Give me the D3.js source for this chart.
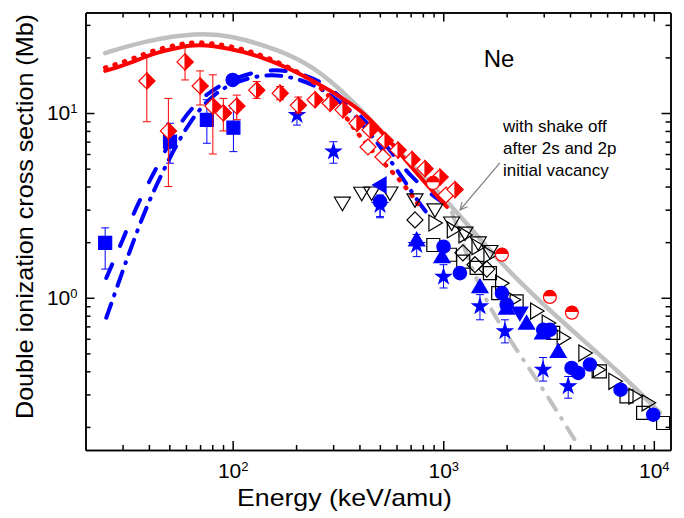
<!DOCTYPE html>
<html>
<head>
<meta charset="utf-8">
<script src="https://cdn.jsdelivr.net/npm/d3@7"></script>
<style>
  body { margin: 0; background: #fff; }
  svg text { font-family: "Liberation Sans", Arial, sans-serif; fill: #000; }
  .axis path, .axis line { stroke: #000; stroke-width: 1.5; }
  .axis text { font-size: 21px; }
</style>
</head>
<body>
<svg id="chart" width="684" height="518"></svg>
<script>

// ----- Data (energy keV/amu, cross section Mb) ------------------------------
var X_DOMAIN = [20, 12000];
var Y_DOMAIN = [0.15, 35];
var X_MAJOR = [100, 1000, 10000];
var Y_MAJOR = [1, 10];
var X_MINOR = [30, 40, 50, 60, 70, 80, 90, 200, 300, 400, 500, 600, 700, 800, 900,
  2000, 3000, 4000, 5000, 6000, 7000, 8000, 9000];
var Y_MINOR = [0.2, 0.3, 0.4, 0.5, 0.6, 0.7, 0.8, 0.9, 2, 3, 4, 5, 6, 7, 8, 9, 20, 30];

// theory curves
var GRAY_SHAKE = [[24.8, 21.1], [39.3, 24.8], [67.8, 27.1], [97, 26.4], [168, 21.9],
  [241, 17.9], [349, 12.5], [501, 8.1], [718, 5.1], [1041, 3.39], [1920, 1.47],
  [3580, 0.76], [6900, 0.394], [10680, 0.239]];
var GRAY_DASHDOT = [[1100, 2.9], [1340, 1.51], [1666, 0.861], [2363, 0.475],
  [3140, 0.292], [4357, 0.16]];
var RED_SOLID = [[24.8, 16.9], [32.6, 18.6], [41.9, 21.1], [56.3, 22.7], [67.8, 23.6],
  [97.2, 22.4], [139, 20.1], [202, 16.7], [290, 13.3], [416, 10.2], [501, 8.1],
  [620, 6.1], [775, 4.5], [1041, 3.1]];
var RED_DOTTED = [[24.8, 17.6], [32.6, 19.4], [41.9, 21.9], [56.3, 23.6], [67.8, 24.4],
  [97.2, 23.2], [139, 20.6], [202, 16.9], [260, 14.0], [324, 10.6], [402, 7.4],
  [501, 5.6], [644, 4.2], [775, 3.1]];
var BLUE_DASHED = [[25.1, 1.28], [29.8, 2.01], [35.6, 3.3], [44.3, 5.24], [57.5, 9.5],
  [76.4, 13.0], [100, 15.3], [135, 17.1], [187, 17.1], [260, 15.1], [349, 11.5],
  [501, 7.5], [700, 4.4], [1041, 3.15]];
var BLUE_DASHDOT = [[25.1, 0.78], [28.6, 1.19], [32.6, 1.82], [39.7, 3.3], [50, 5.7],
  [63, 9.2], [80, 12.5], [100, 14.6], [140, 16.3], [190, 15.8], [260, 13.8],
  [349, 10.8], [450, 7.8], [600, 5.0], [760, 3.3], [865, 2.74]];

// experiments: [E, sigma, errLow, errHigh]
var RED_HALF_DIAMONDS = [[39.1, 14.9, 8.97, 20.6], [49.5, 8.0, 4.0, 12.0],
  [59.4, 18.9, 15.1, 22.8], [70.0, 14.0, 11.05, 16.9], [80.5, 10.9, 6.0, 16.1],
  [90.3, 10.0, 8.0, 12.0], [104.6, 10.9, 9.2, 12.5], [130, 13.3, 12.0, 14.8],
  [168, 12.8, 11.8, 13.9], [205, 11.0, 10.0, 12.2], [246, 11.8], [290, 11.3],
  [334, 10.4], [389, 8.8], [449, 8.1], [529, 7.1], [610, 6.3], [710, 5.6],
  [819, 5.0], [965, 4.5], [1137, 3.85]];
var RED_OPEN_DIAMONDS = [[439, 6.55], [517, 5.78], [1030, 3.6]];
var RED_HALF_CIRCLES = [[894, 4.18], [1899, 1.71], [3209, 1.01], [4083, 0.83]];

var BLUE_SQUARES = [[24.8, 1.98, 1.43, 2.39], [50.4, 7.0, 5.35, 8.8],
  [75.4, 9.17, 6.86, 11.8], [100.8, 8.33, 6.18, 10.6]];
var BLUE_CIRCLES = [[100, 15.1], [501, 3.31, 2.75, 3.31], [1003, 1.89], [1200, 1.36],
  [1899, 1.06], [2000, 0.917], [2983, 0.671], [3209, 0.671], [4067, 0.417],
  [4372, 0.392], [4970, 0.435], [6950, 0.318], [9930, 0.233]];
var BLUE_TRI_UP = [[748, 2.06], [986, 1.67], [1494, 1.15], [2000, 0.88], [2488, 0.73],
  [2964, 0.645], [3515, 0.513]];
var BLUE_TRI_LEFT = [[501, 4.08]];
var BLUE_TRI_DOWN = [[2312, 0.826]];
var BLUE_STARS = [[202, 9.75, 8.6, 10.8], [301, 6.18, 5.35, 6.99], [501, 3.18, 2.71, 3.6],
  [748, 1.93, 1.67, 2.2], [1003, 1.3, 1.13, 1.51], [1494, 0.898, 0.76, 1.04],
  [1963, 0.658, 0.57, 0.76], [2978, 0.408, 0.354, 0.475], [3920, 0.332, 0.286, 0.375]];

var OPEN_TRI_DOWN = [[332, 3.25], [410, 3.68], [457, 3.69], [558, 3.69], [734, 3.39],
  [913, 2.99], [1096, 2.54], [1268, 2.24], [1466, 1.98], [1666, 1.78]];
var OPEN_TRI_RIGHT = [[913, 2.54], [1116, 2.33], [1268, 2.19], [1462, 1.89], [1666, 1.71],
  [1893, 1.2], [2149, 0.976], [2775, 0.847], [3150, 0.73], [3711, 0.605], [4705, 0.502],
  [5441, 0.408], [6531, 0.353], [8128, 0.293], [9395, 0.27]];
var OPEN_SQUARES = [[897, 1.93], [1076, 1.71], [1244, 1.57], [1440, 1.45], [1666, 1.36],
  [1824, 1.06], [2230, 0.955], [3327, 0.645], [5543, 0.4], [7420, 0.293], [8895, 0.238],
  [11070, 0.21]];
var OPEN_DIAMONDS = [[734, 2.64], [1240, 1.75], [1414, 1.51], [1610, 1.43]];

// arrow of the annotation (tail, head) in data units
var ARROW = [[1858, 5.37], [1202, 2.99]];

var RED = '#ff0000';
var BLUE = '#0000ff';
var GRAY = '#c0c0c0';

// ----- SVG Setup ------------------------------------------------------------
var svg = d3.select('#chart');
var margin = { top: 12.5, right: 13.5, bottom: 68, left: 85.5 };
var width = 684 - margin.left - margin.right;
var height = 518 - margin.top - margin.bottom;

var x = d3.scaleLog().domain(X_DOMAIN).range([0, width]);
var y = d3.scaleLog().domain(Y_DOMAIN).range([height, 0]);

var g = svg.append('g')
    .attr('transform', 'translate(' + margin.left + ',' + margin.top + ')');

svg.append('defs').append('clipPath').attr('id', 'clip')
  .append('rect').attr('width', width).attr('height', height);

var defs = svg.select('defs');
defs.append('marker')
    .attr('id', 'arrow')
    .attr('viewBox', '0 0 10 10')
    .attr('refX', 9).attr('refY', 5)
    .attr('markerWidth', 9).attr('markerHeight', 9)
    .attr('markerUnits', 'userSpaceOnUse')
    .attr('orient', 'auto')
  .append('path')
    .attr('d', 'M1,1 L9,5 L1,9')
    .attr('fill', 'none')
    .attr('stroke', '#808080')
    .attr('stroke-width', 1.3);

// ----- Axes -----------------------------------------------------------------
function supLabel(sel) {
  sel.each(function(d) {
    var t = d3.select(this).text(null);
    t.append('tspan').text('10');
    t.append('tspan').attr('dy', '-0.55em').attr('font-size', '0.62em')
      .text(Math.round(Math.log10(d)));
  });
}

function addAxis(axisFn, scale, major, minor, transform, labels, pad) {
  var a = g.append('g').attr('class', 'axis').attr('transform', transform);
  a.call(axisFn(scale).tickValues(minor).tickSize(-5).tickSizeOuter(0).tickFormat(''));
  var b = g.append('g').attr('class', 'axis').attr('transform', transform);
  b.call(axisFn(scale).tickValues(major).tickSize(-9).tickSizeOuter(0).tickPadding(pad));
  if (labels) b.selectAll('.tick text').call(supLabel);
  else b.selectAll('.tick text').remove();
}

addAxis(d3.axisBottom, x, X_MAJOR, X_MINOR, 'translate(0,' + height + ')', true, 13);
addAxis(d3.axisTop, x, X_MAJOR, X_MINOR, 'translate(0,0)', false, 3);
addAxis(d3.axisLeft, y, Y_MAJOR, Y_MINOR, 'translate(0,0)', true, 8);
addAxis(d3.axisRight, y, Y_MAJOR, Y_MINOR, 'translate(' + width + ',0)', false, 3);

svg.append('text')
    .attr('x', 344.5)
    .attr('y', 506)
    .attr('text-anchor', 'middle')
    .attr('font-size', 24)
    .attr('textLength', 215)
    .attr('lengthAdjust', 'spacingAndGlyphs')
    .text('Energy (keV/amu)');

svg.append('text')
    .attr('transform', 'translate(33,216.5) rotate(-90)')
    .attr('text-anchor', 'middle')
    .attr('font-size', 24)
    .attr('textLength', 405)
    .attr('lengthAdjust', 'spacingAndGlyphs')
    .text('Double ionization cross section (Mb)');

// ----- Curves ---------------------------------------------------------------
var plot = g.append('g').attr('clip-path', 'url(#clip)');

var line = d3.line()
    .x(function(d) { return x(d[0]); })
    .y(function(d) { return y(d[1]); })
    .curve(d3.curveBasis);

function curve(data, color, w, dash) {
  plot.append('path')
      .datum(data)
      .attr('d', line)
      .attr('fill', 'none')
      .attr('stroke', color)
      .attr('stroke-width', w)
      .attr('stroke-linecap', 'round')
      .attr('stroke-dasharray', dash || null);
}

curve(GRAY_SHAKE, GRAY, 4.5);
curve(GRAY_DASHDOT, GRAY, 4, '14,10,1,10');
curve(BLUE_DASHED, BLUE, 4, '15,20');
curve(BLUE_DASHDOT, BLUE, 4, '15,9,1,9');
curve(RED_SOLID, RED, 4);
curve(RED_DOTTED, RED, 4.5, '1,9');

// ----- Markers --------------------------------------------------------------
function errorBars(data, color) {
  var rows = data.filter(function(d) { return d.length > 2; });
  var eb = plot.append('g').attr('stroke', color).attr('stroke-width', 1);
  eb.selectAll('.v').data(rows).enter().append('line')
      .attr('x1', function(d) { return x(d[0]); })
      .attr('x2', function(d) { return x(d[0]); })
      .attr('y1', function(d) { return y(d[2]); })
      .attr('y2', function(d) { return y(d[3]); });
  [2, 3].forEach(function(k) {
    eb.selectAll('.c' + k).data(rows).enter().append('line')
        .attr('x1', function(d) { return x(d[0]) - 4; })
        .attr('x2', function(d) { return x(d[0]) + 4; })
        .attr('y1', function(d) { return y(d[k]); })
        .attr('y2', function(d) { return y(d[k]); });
  });
}

function place(d) { return 'translate(' + x(d[0]) + ',' + y(d[1]) + ')'; }

function markers(data, path, fill, stroke, rot) {
  plot.append('g').selectAll('path').data(data).enter().append('path')
      .attr('transform', function(d) { return place(d) + (rot ? ' rotate(' + rot + ')' : ''); })
      .attr('d', path)
      .attr('fill', fill)
      .attr('stroke', stroke)
      .attr('stroke-width', 1.2);
}

var TRI = 'M0,-7.5 L8,6 L-8,6 Z';
var SQUARE = 'M-6.5,-6.5 H6.5 V6.5 H-6.5 Z';
var DIAMOND = 'M0,-8 L8,0 L0,8 L-8,0 Z';
var STAR = d3.symbol(d3.symbolStar, 70)();
var CIRCLE = d3.symbol(d3.symbolCircle, 140)();

// open black symbols
markers(OPEN_SQUARES, SQUARE, 'none', '#000');
markers(OPEN_DIAMONDS, DIAMOND, 'none', '#000');
markers(OPEN_TRI_DOWN, TRI, 'none', '#000', 180);
markers(OPEN_TRI_RIGHT, TRI, 'none', '#000', 90);

// blue symbols
errorBars(BLUE_SQUARES, BLUE);
errorBars(BLUE_STARS, BLUE);
errorBars(BLUE_CIRCLES, BLUE);
markers(BLUE_SQUARES, SQUARE, BLUE, BLUE);
markers(BLUE_TRI_UP, TRI, BLUE, BLUE);
markers(BLUE_TRI_LEFT, TRI, BLUE, BLUE, -90);
markers(BLUE_TRI_DOWN, TRI, BLUE, BLUE, 180);
markers(BLUE_CIRCLES, CIRCLE, BLUE, BLUE);
markers(BLUE_STARS, STAR, BLUE, BLUE);

// red symbols
errorBars(RED_HALF_DIAMONDS, RED);
markers(RED_OPEN_DIAMONDS, DIAMOND, '#fff', RED);
markers(RED_HALF_DIAMONDS, DIAMOND, '#fff', RED);
markers(RED_HALF_DIAMONDS, 'M0,-8 L8,0 L0,8 Z', RED, RED);
markers(RED_HALF_CIRCLES, d3.symbol(d3.symbolCircle, 130)(), '#fff', RED);
markers(RED_HALF_CIRCLES, 'M-6.4,-0.8 A6.4,6.4 0 0 1 6.4,-0.8 Z', RED, 'none');

// ----- Labels ---------------------------------------------------------------
svg.append('text')
    .attr('x', 499).attr('y', 67)
    .attr('text-anchor', 'middle')
    .attr('font-size', 24)
    .text('Ne');

var note = svg.append('text').attr('font-size', 17);
['with shake off', 'after 2s and 2p', 'initial vacancy'].forEach(function(s, i) {
  note.append('tspan').attr('x', 503).attr('y', 132 + i * 22).text(s);
});

g.append('line')
    .attr('x1', x(ARROW[0][0])).attr('y1', y(ARROW[0][1]))
    .attr('x2', x(ARROW[1][0])).attr('y2', y(ARROW[1][1]))
    .attr('stroke', '#808080')
    .attr('stroke-width', 1.3)
    .attr('marker-end', 'url(#arrow)');

</script>
</body>
</html>
